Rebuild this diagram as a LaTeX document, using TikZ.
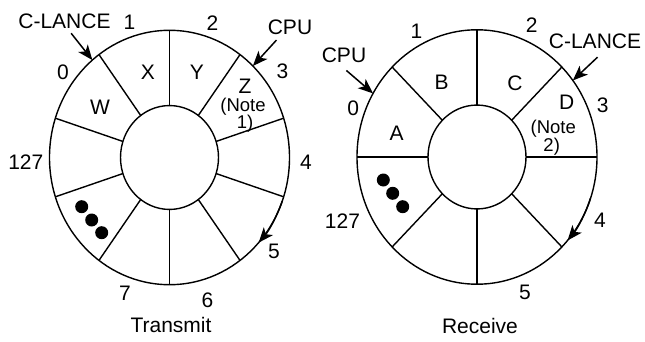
\documentclass[tikz,border=0pt]{standalone}
\usepackage{fontspec}
\setmainfont{Liberation Sans}
\usetikzlibrary{arrows.meta}
\begin{document}
\begin{tikzpicture}[x=1pt,y=-1pt,
  ring/.style={line width=1.4pt},
  lbl/.style={inner sep=0pt, font=\fontsize{21}{24}\selectfont, text height=15pt, text depth=0pt},
  note/.style={inner sep=0pt, font=\fontsize{18.5}{20}\selectfont, text height=13pt, text depth=0pt},
  ptr/.style={line width=1.5pt, -{Stealth[length=15pt,width=12pt,inset=4pt]}},
  blob/.style={fill=black, circle, minimum size=13pt, inner sep=0pt}]
\useasboundingbox (0,0) rectangle (645,342);
% Transmit ring
\begin{scope}[shift={(169.5,157.5)}, yscale=-1.06]
  \draw[ring] (0,0) circle[radius=120];
  \draw[ring] (0,0) circle[radius=49];
  \foreach \a in {90,126,...,414} \draw[ring] (\a:49) -- (\a:120);
  \coordinate (tcls) at (130:153); \coordinate (tclt) at (130:120);
  \coordinate (tcps) at (46:154);  \coordinate (tcpt) at (46:120);
  \coordinate (tarc) at (-20:120);
  \draw[ptr] (tarc) arc[start angle=-20, end angle=-42, radius=120];
\end{scope}
\draw[ptr] (tcls) -- (tclt);
\draw[ptr] (tcps) -- (tcpt);
% Receive ring
\begin{scope}[shift={(477,157)}, yscale=-1.06]
  \draw[ring] (0,0) circle[radius=120];
  \draw[ring] (0,0) circle[radius=49];
  \foreach \a in {0,45,...,315} \draw[ring] (\a:49) -- (\a:120);
  \coordinate (rcls) at (38:153); \coordinate (rclt) at (37:120);
  \coordinate (rcps) at (148:154); \coordinate (rcpt) at (150:120);
  \coordinate (rarc) at (-19:120);
  \draw[ptr] (rarc) arc[start angle=-19, end angle=-41, radius=120];
\end{scope}
\draw[ptr] (rcls) -- (rclt);
\draw[ptr] (rcps) -- (rcpt);
% Transmit labels
\node[lbl] (tCL) at (64.5,21) {C-LANCE};
\node[lbl] (t1) at (129.5,22) {1};
\node[lbl] (t2) at (212.5,23) {2};
\node[lbl] (tCPU) at (290,27) {CPU};
\node[lbl] (t0) at (63,72) {0};
\node[lbl] (t3) at (282.5,71.5) {3};
\node[lbl] (tW) at (100,107) {W};
\node[lbl] (tX) at (148,72) {X};
\node[lbl] (tY) at (197,72) {Y};
\node[lbl] (tZ) at (245,86) {Z};
\node[note] (tN1) at (243,105) {(Note};
\node[note] (tN2) at (245,122) {1)};
\node[lbl] (t127) at (25.8,161.5) {127};
\node[lbl] (t4) at (306,161.5) {4};
\node[lbl] (t5) at (274,251) {5};
\node[lbl] (t6) at (207.5,300) {6};
\node[lbl] (t7) at (125,293.3) {7};
\node[lbl] (tT) at (171,325) {Transmit};
\node[blob] (td1) at (81.7,206.7) {};
\node[blob] (td2) at (91.7,220) {};
\node[blob] (td3) at (101.7,232.7) {};
% Receive labels
\node[lbl] (r1) at (416.5,31.5) {1};
\node[lbl] (r2) at (531.7,25.5) {2};
\node[lbl] (rCL) at (595,41) {C-LANCE};
\node[lbl] (rCPU) at (344,55.5) {CPU};
\node[lbl] (r0) at (353.3,108.3) {0};
\node[lbl] (r3) at (602.7,105) {3};
\node[lbl] (rA) at (396.7,133.3) {A};
\node[lbl] (rB) at (441.7,81.7) {B};
\node[lbl] (rC) at (515,83.3) {C};
\node[lbl] (rD) at (566.7,101.7) {D};
\node[note] (rN1) at (553.3,127.5) {(Note};
\node[note] (rN2) at (551.7,144.5) {2)};
\node[lbl] (r127) at (342.5,221) {127};
\node[lbl] (r4) at (600,220) {4};
\node[lbl] (r5) at (525,291.7) {5};
\node[lbl] (rR) at (480,326) {Receive};
\node[blob] (rd1) at (383.3,180) {};
\node[blob] (rd2) at (392.7,193.3) {};
\node[blob] (rd3) at (402.7,206.7) {};
\end{tikzpicture}
\end{document}
